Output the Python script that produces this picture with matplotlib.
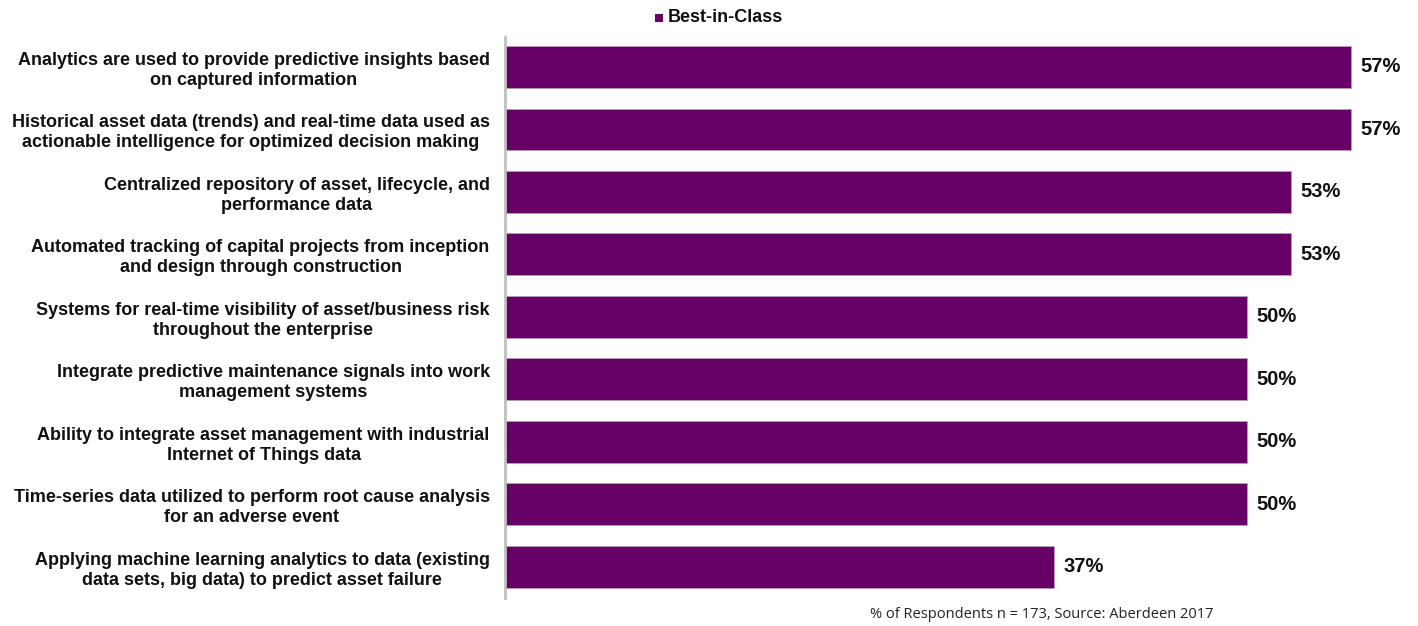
import matplotlib.pyplot as plt
from matplotlib.patches import Rectangle

# === Data ===
categories = [
    "Analytics are used to provide predictive insights based\non captured information",
    "Historical asset data (trends) and real-time data used as\nactionable intelligence for optimized decision making",
    "Centralized repository of asset, lifecycle, and\nperformance data",
    "Automated tracking of capital projects from inception\nand design through construction",
    "Systems for real-time visibility of asset/business risk\nthroughout the enterprise",
    "Integrate predictive maintenance signals into work\nmanagement systems",
    "Ability to integrate asset management with industrial\nInternet of Things data",
    "Time-series data utilized to perform root cause analysis\nfor an adverse event",
    "Applying machine learning analytics to data (existing\ndata sets, big data) to predict asset failure",
]
values = [57, 57, 53, 53, 50, 50, 50, 50, 37]
series_name = "Best-in-Class"
footnote = "% of Respondents n = 173, Source: Aberdeen 2017"

BAR_COLOR = "#660066"
W, H = 1418, 626

plt.rcParams['font.family'] = ['Liberation Sans', 'DejaVu Sans']

fig = plt.figure(figsize=(W / 100, H / 100), dpi=100)
ax = fig.add_axes([505 / W, 28 / H, (1395 - 505) / W, (598 - 37) / H])

ypos = list(range(len(values)))
ax.barh(ypos, values, height=0.67, color=BAR_COLOR, edgecolor="#b8a0b8", linewidth=0.6)
ax.set_xlim(0, 60)
ax.set_ylim(len(values) - 0.5, -0.48)

for y, v in zip(ypos, values):
    ax.annotate(f"{v}%", (v, y), xytext=(7, 0), textcoords="offset points",
                va="center", ha="left", fontsize=14.5, fontweight="bold", color="#111111")

ax.set_yticks(ypos)
ax.set_yticklabels(categories, fontsize=13, fontweight="bold", multialignment="center",
                   color="#111111", linespacing=1.22)
ax.tick_params(axis="y", length=0, pad=11)
ax.set_xticks([])
for s in ["top", "right", "bottom"]:
    ax.spines[s].set_visible(False)
ax.spines["left"].set_color("#bfbfbf")
ax.spines["left"].set_linewidth(2)

# legend
fig.patches.append(Rectangle((655 / W, (H - 22) / H), 8 / W, 8 / H, transform=fig.transFigure,
                             facecolor=BAR_COLOR, edgecolor="none"))
fig.text(668 / W, (H - 17) / H, series_name, fontsize=13, fontweight="bold",
         va="center", ha="left", color="#111111")

fig.text(870 / W, 12 / H, footnote, fontsize=10.5, va="center", ha="left",
         color="#222222", family=["Open Sans", "DejaVu Sans"])

fig.savefig("out.png", dpi=100)
